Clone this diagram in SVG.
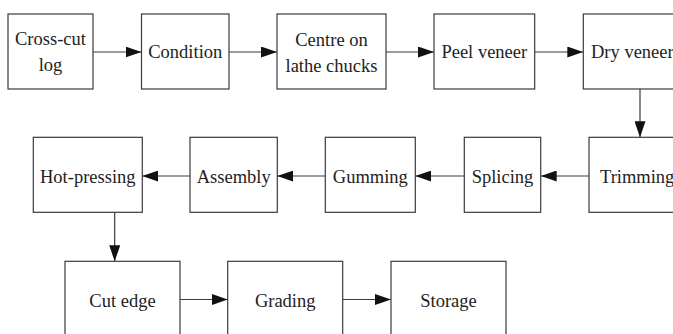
<svg xmlns="http://www.w3.org/2000/svg" width="673" height="334" viewBox="0 0 673 334">
<style>
.box{fill:#fff;stroke:#3a3a3a;stroke-width:1.2}
.lbl{font-family:'Liberation Serif','Times New Roman','DejaVu Serif',serif;font-size:18.5px;fill:#222;text-anchor:middle}
.st{text-anchor:start}
.con{stroke:#3a3a3a;stroke-width:1.2;fill:none;marker-end:url(#ah)}
</style>
<defs>
<marker id="ah" markerUnits="userSpaceOnUse" markerWidth="16" markerHeight="11" refX="16" refY="5.5" orient="auto" viewBox="0 0 16 11">
<path d="M0,0 L16,5.5 L0,11 z" fill="#111"/>
</marker>
</defs>
<rect width="673" height="334" fill="#fff"/>
<g id="connectors">
<line class="con" x1="93" y1="52" x2="141.5" y2="52"/>
<line class="con" x1="229" y1="52" x2="277" y2="52"/>
<line class="con" x1="386" y1="52" x2="434" y2="52"/>
<line class="con" x1="534.7" y1="52" x2="583.3" y2="52"/>
<line class="con" x1="640" y1="89" x2="640" y2="137.3"/>
<line class="con" x1="589" y1="176" x2="540.7" y2="176"/>
<line class="con" x1="464.3" y1="176" x2="415.3" y2="176"/>
<line class="con" x1="325.3" y1="176" x2="277.3" y2="176"/>
<line class="con" x1="190" y1="176" x2="142.3" y2="176"/>
<line class="con" x1="114.7" y1="212.3" x2="114.7" y2="261.3"/>
<line class="con" x1="180" y1="299.5" x2="227.7" y2="299.5"/>
<line class="con" x1="342.7" y1="299.5" x2="391" y2="299.5"/>
</g>
<g id="n1"><rect class="box" x="8" y="14" width="85" height="75"/><text class="lbl" font-family="Liberation Serif, serif" x="50.5" y="45">Cross-cut</text><text class="lbl" x="50.5" y="71">log</text></g>
<g id="n2"><rect class="box" x="141.5" y="14" width="87.5" height="75"/><text class="lbl" x="185.3" y="58">Condition</text></g>
<g id="n3"><rect class="box" x="277" y="14" width="109" height="75"/><text class="lbl" x="331.5" y="46">Centre on</text><text class="lbl" x="331.5" y="72">lathe chucks</text></g>
<g id="n4"><rect class="box" x="434" y="14" width="100.7" height="75"/><text class="lbl" x="484.3" y="58">Peel veneer</text></g>
<g id="n5"><rect class="box" x="583.3" y="14" width="100" height="75"/><text class="lbl st" x="591" y="58">Dry veneer</text></g>
<g id="n6"><rect class="box" x="589" y="137.3" width="100" height="75"/><text class="lbl st" x="600" y="183">Trimming</text></g>
<g id="n7"><rect class="box" x="464.3" y="137.3" width="76.4" height="75"/><text class="lbl" x="502.5" y="183">Splicing</text></g>
<g id="n8"><rect class="box" x="325.3" y="137.3" width="90" height="75"/><text class="lbl" x="370.3" y="183">Gumming</text></g>
<g id="n9"><rect class="box" x="190" y="137.3" width="87.3" height="75"/><text class="lbl" x="233.7" y="183">Assembly</text></g>
<g id="n10"><rect class="box" x="33.3" y="137.3" width="109" height="75"/><text class="lbl" x="87.8" y="183">Hot-pressing</text></g>
<g id="n11"><rect class="box" x="65" y="261.3" width="115" height="90"/><text class="lbl" x="122.5" y="306.5">Cut edge</text></g>
<g id="n12"><rect class="box" x="227.7" y="261.3" width="115" height="90"/><text class="lbl" x="285.2" y="306.5">Grading</text></g>
<g id="n13"><rect class="box" x="391" y="261.3" width="115" height="90"/><text class="lbl" x="448.5" y="306.5">Storage</text></g>
</svg>
